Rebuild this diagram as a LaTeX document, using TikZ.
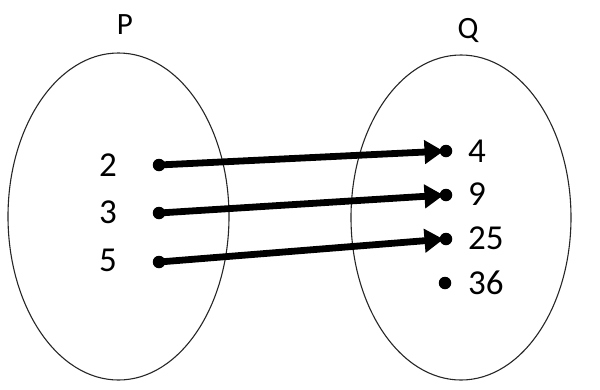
\documentclass[tikz,border=0pt]{standalone}
\usepackage{fontspec}
\setmainfont{Carlito}
\usetikzlibrary{arrows.meta}
\begin{document}
\begin{tikzpicture}[x=1pt,y=-1pt,
  setellipse/.style={draw=black!85,line width=1.1pt},
  dotnode/.style={circle,fill=black,inner sep=0pt,minimum size=12.5pt},
  numlabel/.style={font=\fontsize{35}{42}\selectfont,inner sep=0pt},
  setlabel/.style={font=\fontsize{31}{37}\selectfont,inner sep=0pt},
  maparrow/.style={line width=6.8pt,-{Triangle[length=19pt,width=23pt]},shorten >=2.5pt}]
\useasboundingbox (0,0) rectangle (600,389);
\draw[setellipse] (118.5,216.5) ellipse [x radius=110.5,y radius=163.5];
\draw[setellipse] (461,217.5) ellipse [x radius=110,y radius=162.5];
\node[setlabel] (P) at (125,25) {P};
\node[setlabel] (Q) at (468,30) {Q};
\node[dotnode] (l2) at (159,165) {};
\node[dotnode] (l3) at (159,213) {};
\node[dotnode] (l5) at (159,262) {};
\node[dotnode] (r4) at (446,151) {};
\node[dotnode] (r9) at (446,195) {};
\node[dotnode] (r25) at (446,239) {};
\node[dotnode] (r36) at (445,283) {};
\node[numlabel] (t2) at (108,165) {2};
\node[numlabel] (t3) at (108,212) {3};
\node[numlabel] (t5) at (108,260) {5};
\node[numlabel,anchor=west] (t4) at (468,151) {4};
\node[numlabel,anchor=west] (t9) at (468,194) {9};
\node[numlabel,anchor=west] (t25) at (468,238) {25};
\node[numlabel,anchor=west] (t36) at (468,283) {36};
\draw[maparrow] (l2.center) -- (r4.center);
\draw[maparrow] (l3.center) -- (r9.center);
\draw[maparrow] (l5.center) -- (r25.center);
\end{tikzpicture}
\end{document}
